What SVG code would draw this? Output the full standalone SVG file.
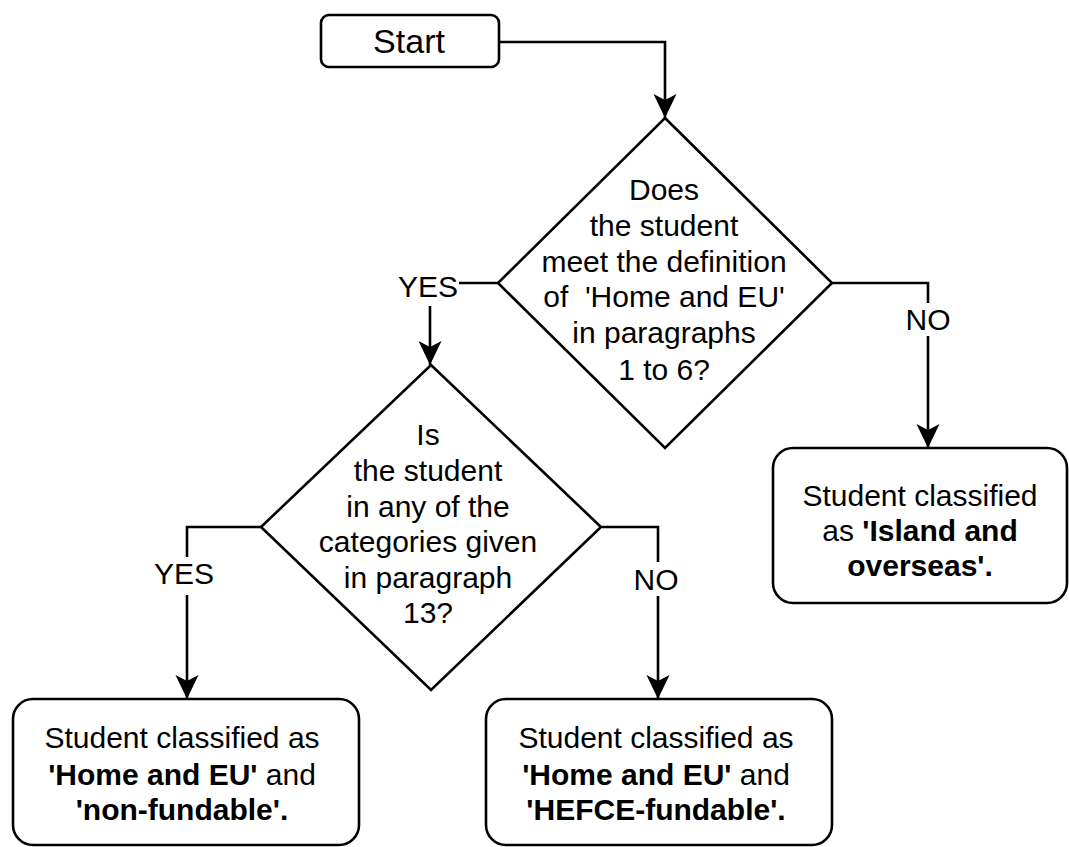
<svg xmlns="http://www.w3.org/2000/svg" width="1069" height="847" viewBox="0 0 1069 847">
  <style>
    .shape { fill: #ffffff; stroke: #000000; stroke-width: 2.6; }
    .edge { fill: none; stroke: #000000; stroke-width: 2.6; }
    text { font-family: "Liberation Sans", Arial, Helvetica, sans-serif; font-size: 30px; fill: #000000; text-anchor: middle; }
    .b { font-weight: bold; }
    .lblbg { fill: #ffffff; stroke: none; }
  </style>
  <defs>
    <marker id="arrow" markerUnits="userSpaceOnUse" markerWidth="26" markerHeight="26" refX="24" refY="12" orient="auto">
      <path d="M24,12 L0,0.5 L6,12 L0,23.5 Z" fill="#000000"/>
    </marker>
  </defs>

  <rect width="1069" height="847" fill="#ffffff"/>

  <!-- connectors -->
  <g id="connectors">
    <path class="edge" d="M500,42 H665 V118" marker-end="url(#arrow)"/>
    <path class="edge" d="M500,283 H430 V365" marker-end="url(#arrow)"/>
    <path class="edge" d="M832,283 H928 V448" marker-end="url(#arrow)"/>
    <path class="edge" d="M262,527 H187 V699" marker-end="url(#arrow)"/>
    <path class="edge" d="M602,527 H658 V699" marker-end="url(#arrow)"/>

    <!-- branch labels -->
    <rect class="lblbg" x="397" y="270" width="62" height="36"/>
    <text x="428" y="297">YES</text>
    <rect class="lblbg" x="905" y="303" width="46" height="33"/>
    <text x="928" y="330">NO</text>
    <rect class="lblbg" x="153" y="557" width="64" height="38"/>
    <text x="184" y="584">YES</text>
    <rect class="lblbg" x="632" y="562" width="48" height="34"/>
    <text x="656" y="590">NO</text>
  </g>

  <!-- start terminal -->
  <g id="start">
    <rect class="shape" x="321" y="15" width="178" height="52" rx="8"/>
    <text x="409" y="53" style="font-size:34px">Start</text>
  </g>

  <!-- first decision -->
  <g id="decision-home-eu">
    <polygon class="shape" points="665,118 832,283 665,448 498,283"/>
    <text x="664" y="200">Does</text>
    <text x="664" y="236">the student</text>
    <text x="664" y="272">meet the definition</text>
    <text x="664" y="307">of&#160; 'Home and EU'</text>
    <text x="664" y="343">in paragraphs</text>
    <text x="664" y="380">1 to 6?</text>
  </g>

  <!-- second decision -->
  <g id="decision-categories">
    <polygon class="shape" points="431,365 601,527 431,690 261,527"/>
    <text x="428" y="445">Is</text>
    <text x="428" y="481">the student</text>
    <text x="428" y="517">in any of the</text>
    <text x="428" y="552">categories given</text>
    <text x="428" y="588">in paragraph</text>
    <text x="428" y="623">13?</text>
  </g>

  <!-- outcome: island and overseas -->
  <g id="island-overseas">
    <rect class="shape" x="773" y="448" width="294" height="155" rx="20"/>
    <text x="920" y="506">Student classified</text>
    <text x="920" y="541">as <tspan class="b">'Island and</tspan></text>
    <text x="920" y="576" class="b">overseas'.</text>
  </g>

  <!-- outcome: non-fundable -->
  <g id="non-fundable">
    <rect class="shape" x="13" y="699" width="346" height="146" rx="20"/>
    <text x="182" y="748">Student classified as</text>
    <text x="182" y="785"><tspan class="b">'Home and EU'</tspan> and</text>
    <text x="182" y="820" class="b">'non-fundable'.</text>
  </g>

  <!-- outcome: HEFCE-fundable -->
  <g id="hefce-fundable">
    <rect class="shape" x="486" y="699" width="346" height="146" rx="20"/>
    <text x="656" y="748">Student classified as</text>
    <text x="656" y="785"><tspan class="b">'Home and EU'</tspan> and</text>
    <text x="656" y="820" class="b">'HEFCE-fundable'.</text>
  </g>
</svg>
